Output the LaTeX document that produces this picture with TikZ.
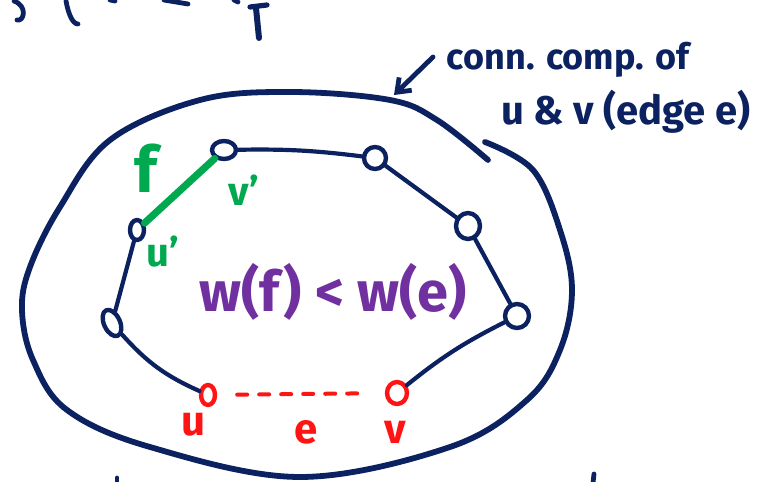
\documentclass[tikz,border=0pt]{standalone}
\usepackage{fontspec}
\setmainfont{Fira Sans}
\usepackage{tikz}
\usetikzlibrary{arrows.meta, shapes.geometric, positioning}
\definecolor{ink}{HTML}{0B2160}
\definecolor{inkgreen}{HTML}{00A94F}
\definecolor{inkred}{HTML}{FF1414}
\definecolor{inkpurple}{HTML}{7030A0}

\begin{document}
\begin{tikzpicture}[x=0.5pt, y=-0.5pt,
  line cap=round, line join=round,
  every node/.style={font=\bfseries},
  vtx/.style={ellipse, draw=ink, line width=2.2pt, inner sep=0pt},
  redvtx/.style={vtx, draw=inkred},
  tree/.style={draw=ink, line width=2.1pt},
  outer/.style={draw=ink, line width=2.9pt},
  fedge/.style={draw=inkgreen, line width=3.6pt},
  eedge/.style={draw=inkred, line width=2pt, dash pattern=on 5pt off 6pt,
    shorten <=10pt, shorten >=10pt}
]
  \useasboundingbox (0,0) rectangle (773,482);

  % cut-off writing at the edges
  \draw[ink, line width=2.4pt] (14,1) .. controls (28,6) and (24,22) .. (17,20);
  \draw[ink, line width=2.4pt] (66,1) .. controls (68,12) and (72,24) .. (78,24);
  \draw[ink, line width=2.4pt] (110,0) -- (115,1);
  \draw[ink, line width=2.4pt] (164,0) -- (188,4);
  \draw[ink, line width=2.4pt] (234,0) -- (238,2);
  \draw[ink, line width=2.6pt] (250,7) -- (267,5);
  \draw[ink, line width=3pt] (256,8) -- (259,38);
  \draw[ink, line width=2.4pt] (117,478) -- (117,483);
  \draw[ink, line width=2.4pt] (594,474) -- (593,483);

  % connected component
  \draw[outer] plot[smooth, tension=0.6] coordinates {
    (488,160) (437,120) (390,100) (290,92) (200,100) (110,140) (60,207)
    (30,267) (22,310) (33,360) (67,410) (150,447) (300,477) (450,447)
    (527,400) (560,350) (572,290) (560,230) (533,170) (485,142)};

  % vertices
  \node[vtx, minimum width=12pt, minimum height=9pt]  (vp)  at (224,150) {};
  \node[vtx, minimum width=11pt, minimum height=11pt] (vt)  at (375,158) {};
  \node[vtx, minimum width=12pt, minimum height=13pt] (vr1) at (468,226) {};
  \node[vtx, minimum width=12pt, minimum height=12pt] (vr2) at (517,316) {};
  \node[vtx, minimum width=7pt, minimum height=10pt]  (up)  at (137,230) {};
  \node[vtx, minimum width=8pt, minimum height=14pt, rotate=25] (vl) at (112,323) {};
  \node[redvtx, minimum width=7pt, minimum height=10pt]  (u) at (208,395) {};
  \node[redvtx, minimum width=10pt, minimum height=11pt] (v) at (397,393) {};

  % path between u and v
  \draw[tree] (vp) to[bend left=4] (vt);
  \draw[tree] (vt) -- (vr1);
  \draw[tree] (vr1) -- (vr2);
  \draw[tree] (vr2) to[bend right=6] (v);
  \draw[tree] (up) -- (vl);
  \draw[tree] (vl) to[bend right=12] (u);

  \draw[fedge] (up) -- (vp);
  \draw[eedge] (u) -- (v);

  % labels
  \node[text=inkgreen, font=\bfseries\fontsize{32}{34}\selectfont] (flbl) at (146,168) {f};
  \node[text=inkgreen, font=\bfseries\fontsize{20}{22}\selectfont] (vplbl) at (244,190) {v'};
  \node[text=inkgreen, font=\bfseries\fontsize{20}{22}\selectfont] (uplbl) at (163,252) {u'};
  \node[text=inkred, font=\bfseries\fontsize{21}{23}\selectfont] (ulbl) at (194,425) {u};
  \node[text=inkred, font=\bfseries\fontsize{21}{23}\selectfont] (elbl) at (306,432) {e};
  \node[text=inkred, font=\bfseries\fontsize{21}{23}\selectfont] (vlbl) at (395,432) {v};
  \node[text=inkpurple, font=\bfseries\fontsize{28}{30}\selectfont] (cmp) at (333,292) {w(f) < w(e)};

  \node[text=ink, font=\bfseries\fontsize{18}{20}\selectfont] (conn) at (568,60) {conn. comp. of};
  \node[text=ink, font=\bfseries\fontsize{20}{22}\selectfont] (uv) at (626,112) {u \& v (edge e)};

  \coordinate (arrtail) at (433,57);
  \coordinate (arrtip) at (394,95);
  \draw[ink, line width=2.4pt, -{Straight Barb[length=6pt, width=9pt]}] (arrtail) -- (arrtip);
\end{tikzpicture}
\end{document}
